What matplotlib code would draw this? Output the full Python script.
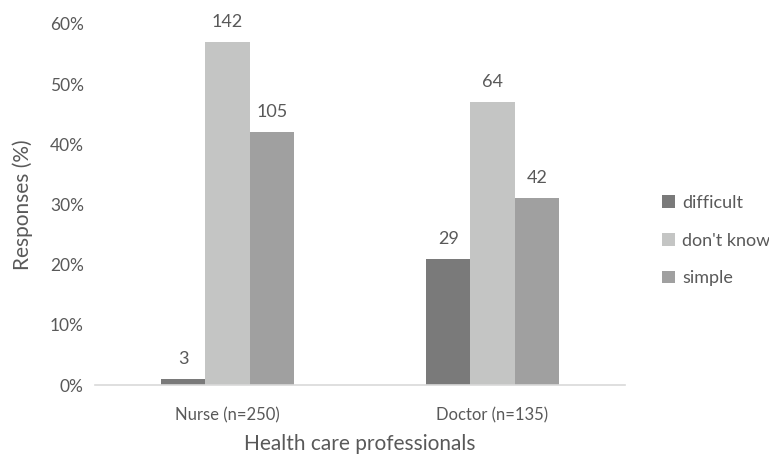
import numpy as np
import matplotlib.pyplot as plt

plt.rcParams['font.family'] = ['Lato', 'DejaVu Sans']

groups = ["Nurse (n=250)", "Doctor (n=135)"]
series = ["difficult", "don't know", "simple"]
# Balkenhoehe in Prozent
pct_difficult = [1, 21]
pct_dontknow = [57, 47]
pct_simple = [42, 31]
# Beschriftung = Anzahl
n_difficult = [3, 29]
n_dontknow = [142, 64]
n_simple = [105, 42]

colors = ["#7a7a7a", "#c4c5c4", "#a0a0a0"]
txt = "#595959"

fig = plt.figure(figsize=(7.69, 4.55), dpi=100)
ax = fig.add_axes([0.1235, 0.1538, 0.6892, 0.7935])

x = np.arange(len(groups))
w = 0.167
vals = [pct_difficult, pct_dontknow, pct_simple]
cnts = [n_difficult, n_dontknow, n_simple]
for i in range(3):
    pos = x + (i - 1) * w
    bars = ax.bar(pos, vals[i], w, color=colors[i], label=series[i])
    for b, c in zip(bars, cnts[i]):
        ax.text(b.get_x() + b.get_width() / 2, b.get_height() + 2.0, str(c),
                ha="center", va="bottom", fontsize=13, color=txt)

ax.set_xlim(-0.5, 1.5)
ax.set_ylim(0, 60)
ax.set_yticks(np.arange(0, 61, 10))
ax.set_yticklabels([f"{v}%" for v in range(0, 61, 10)])
ax.set_xticks(x)
ax.set_xticklabels(groups)
ax.tick_params(length=0, labelsize=12.5, labelcolor=txt)
ax.tick_params(axis="x", labelsize=12, pad=16)
ax.tick_params(axis="y", pad=8)
for s in ["top", "right", "left"]:
    ax.spines[s].set_visible(False)
ax.spines["bottom"].set_color("#d9d9d9")
ax.spines["bottom"].set_linewidth(1.2)

ax.set_xlabel("Health care professionals", fontsize=15, color=txt, va="center")
ax.xaxis.set_label_coords(0.5, -0.162)
ax.set_ylabel("Responses (%)", fontsize=15, color=txt, va="center")
ax.yaxis.set_label_coords(-0.136, 0.5)

leg = ax.legend(loc="center left", bbox_to_anchor=(1.04, 0.4), frameon=False,
                fontsize=13, handlelength=0.7, handleheight=0.7,
                handletextpad=0.4, labelspacing=1.2)
for t in leg.get_texts():
    t.set_color(txt)

plt.savefig("out.png")
